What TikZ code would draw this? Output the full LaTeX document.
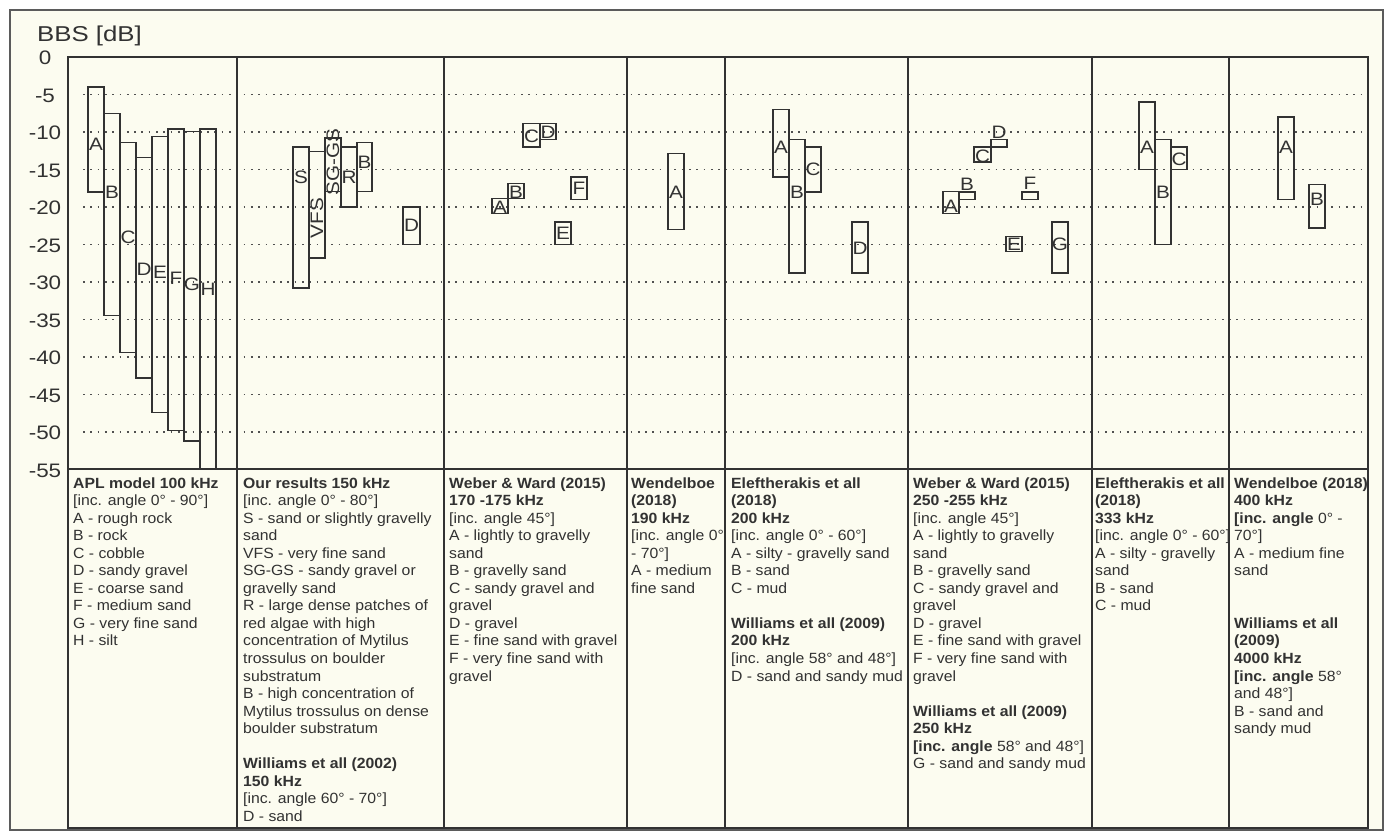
\documentclass[tikz,border=0pt]{standalone}
\usepackage{fontspec}
\usepackage{graphicx}
\setmainfont{Liberation Sans}
\newfontfamily\tabfont{Liberation Sans}[FakeStretch=1.065]
\newfontfamily\tickfont{Liberation Sans}[FakeStretch=1.15]
\newfontfamily\titlefont{Liberation Sans}[FakeStretch=1.2]
\definecolor{cream}{RGB}{252,252,240}
\definecolor{ink}{RGB}{50,50,50}
\definecolor{dotc}{RGB}{80,80,80}
\tikzset{
  frameline/.style={draw=ink!80, line width=1.5pt},
  divline/.style={draw=ink, line width=1.5pt},
  barline/.style={draw=ink, line width=1.4pt},
  gridline/.style={draw=dotc, line width=1.7pt, dash pattern=on 1.7pt off 5.6pt},
  barlab/.style={inner sep=0pt, text=ink, font=\tickfont\fontsize{18}{18}\selectfont},
  ticklab/.style={inner sep=0pt, text=ink, font=\tickfont\fontsize{19.5}{19.5}\selectfont},
  tabtext/.style={inner sep=0pt, anchor=base west, text=ink, font=\tabfont\fontsize{14.8}{17.55}\selectfont}
}
\newcommand\bbar[7]{%
  \draw[barline] (#2,{57-7.5*(#4)}) rectangle (#3,{57-7.5*(#5)});
  \node[barlab] (#1) at ({(#2+#3)/2},{57-7.5*(#7)}) {#6};}
\begin{document}
\begin{tikzpicture}[x=1pt,y=-1pt]
\useasboundingbox (0,0) rectangle (1391,836);
\fill[white] (0,0) rectangle (1391,836);
\draw[frameline, fill=cream] (10,10) rectangle (1383,830);
% title and ticks
\node[inner sep=0pt, anchor=base west, text=ink, font=\titlefont\fontsize{21.5}{21.5}\selectfont] (title) at (37,41) {BBS [dB]};
\foreach \v [count=\i] in {0,-5,-10,-15,-20,-25,-30,-35,-40,-45,-50,-55}
  \node[ticklab] (tick\i) at (45,{57-7.5*\v+1}) {\v};
% grid
\foreach \v in {-5,-10,-15,-20,-25,-30,-35,-40,-45,-50}
  \draw[gridline] (83,{57-7.5*\v}) -- (1368,{57-7.5*\v});
% frame and dividers
\draw[divline] (68,57) rectangle (1368,828);
\draw[divline] (68,469) -- (1368,469);
\foreach \xx in {237,444,627,725,908,1092,1229}
  \draw[divline] (\xx,57) -- (\xx,828);
% column 1
\bbar{a1}{88}{104}{-4}{-18}{A}{-11.6}
\bbar{b1}{104}{120}{-7.5}{-34.5}{B}{-18.1}
\bbar{c1}{120}{136}{-11.4}{-39.4}{C}{-24.1}
\bbar{d1}{136}{152}{-13.4}{-42.8}{D}{-28.3}
\bbar{e1}{152}{168}{-10.6}{-47.4}{E}{-28.7}
\bbar{f1}{168}{184}{-9.6}{-49.8}{F}{-29.5}
\bbar{g1}{184}{200}{-9.9}{-51.2}{G}{-30.3}
\bbar{h1}{200}{216}{-9.6}{-55}{H}{-31}
% column 2
\bbar{s2}{293}{309}{-12}{-30.8}{S}{-16}
\bbar{vfs2}{309}{325}{-12.6}{-26.8}{\rotatebox{90}{VFS}}{-21.5}
\bbar{sg2}{325}{341}{-10.8}{-17.9}{\rotatebox{90}{SG-GS}}{-14}
\bbar{r2}{341}{357}{-12}{-20}{R}{-16}
\bbar{b2}{357}{372}{-11.4}{-17.9}{B}{-14}
\bbar{d2}{403}{420}{-20}{-25}{D}{-22.5}
% column 3
\bbar{a3}{492}{508}{-18.9}{-20.9}{A}{-20}
\bbar{b3}{508}{524}{-16.9}{-18.9}{B}{-18}
\bbar{c3}{523}{540}{-8.9}{-12}{C}{-10.6}
\bbar{d3}{540}{556}{-8.9}{-11}{D}{-10}
\bbar{e3}{555}{571}{-22}{-25}{E}{-23.5}
\bbar{f3}{571}{587}{-16}{-19}{F}{-17.5}
% column 4
\bbar{a4}{668}{684}{-12.9}{-23}{A}{-18}
% column 5
\bbar{a5}{773}{789}{-7}{-16}{A}{-12.1}
\bbar{b5}{789}{805}{-11}{-28.8}{B}{-18}
\bbar{c5}{805}{821}{-12}{-18}{C}{-15}
\bbar{d5}{852}{868}{-22}{-28.8}{D}{-25.5}
% column 6
\bbar{a6}{943}{959}{-17.9}{-20.9}{A}{-19.9}
\bbar{b6}{959}{975}{-18}{-19}{B}{-17}
\bbar{c6}{974}{991}{-12}{-14}{C}{-13.2}
\bbar{d6}{991}{1007}{-11}{-12}{D}{-10}
\bbar{e6}{1006}{1022}{-23.9}{-25.9}{E}{-25}
\bbar{f6}{1022}{1038}{-18}{-19}{F}{-16.8}
\bbar{g6}{1052}{1068}{-22}{-28.8}{G}{-25}
% column 7
\bbar{a7}{1139}{1155}{-6}{-15}{A}{-12}
\bbar{b7}{1155}{1171}{-11}{-25}{B}{-18}
\bbar{c7}{1171}{1187}{-12}{-15}{C}{-13.6}
% column 8
\bbar{a8}{1278}{1294}{-8}{-19}{A}{-12.1}
\bbar{b8}{1309}{1325}{-17}{-22.8}{B}{-19}
% table texts
\node[tabtext] (t1) at (73,488) {\begin{tabular}[t]{@{}l@{}}
\textbf{APL model 100 kHz}\\
{[}inc. angle 0° - 90°]\\
A - rough rock\\
B - rock\\
C - cobble\\
D - sandy gravel\\
E - coarse sand\\
F - medium sand\\
G - very fine sand\\
H - silt
\end{tabular}};
\node[tabtext] (t2) at (243,488) {\begin{tabular}[t]{@{}l@{}}
\textbf{Our results 150 kHz}\\
{[}inc. angle 0° - 80°]\\
S - sand or slightly gravelly\\
sand\\
VFS - very fine sand\\
SG-GS - sandy gravel or\\
gravelly sand\\
R - large dense patches of\\
red algae with high\\
concentration of Mytilus\\
trossulus on boulder\\
substratum\\
B - high concentration of\\
Mytilus trossulus on dense\\
boulder substratum\\
\mbox{}\\
\textbf{Williams et all (2002)}\\
\textbf{150 kHz}\\
{[}inc. angle 60° - 70°]\\
D - sand
\end{tabular}};
\node[tabtext] (t3) at (449,488) {\begin{tabular}[t]{@{}l@{}}
\textbf{Weber \& Ward (2015)}\\
\textbf{170 -175 kHz}\\
{[}inc. angle 45°]\\
A - lightly to gravelly\\
sand\\
B - gravelly sand\\
C - sandy gravel and\\
gravel\\
D - gravel\\
E - fine sand with gravel\\
F - very fine sand with\\
gravel
\end{tabular}};
\node[tabtext] (t4) at (631,488) {\begin{tabular}[t]{@{}l@{}}
\textbf{Wendelboe}\\
\textbf{(2018)}\\
\textbf{190 kHz}\\
{[}inc. angle 0°\\
- 70°]\\
A - medium\\
fine sand
\end{tabular}};
\node[tabtext] (t5) at (731,488) {\begin{tabular}[t]{@{}l@{}}
\textbf{Eleftherakis et all}\\
\textbf{(2018)}\\
\textbf{200 kHz}\\
{[}inc. angle 0° - 60°]\\
A - silty - gravelly sand\\
B - sand\\
C - mud\\
\mbox{}\\
\textbf{Williams et all (2009)}\\
\textbf{200 kHz}\\
{[}inc. angle 58° and 48°]\\
D - sand and sandy mud
\end{tabular}};
\node[tabtext] (t6) at (913,488) {\begin{tabular}[t]{@{}l@{}}
\textbf{Weber \& Ward (2015)}\\
\textbf{250 -255 kHz}\\
{[}inc. angle 45°]\\
A - lightly to gravelly\\
sand\\
B - gravelly sand\\
C - sandy gravel and\\
gravel\\
D - gravel\\
E - fine sand with gravel\\
F - very fine sand with\\
gravel\\
\mbox{}\\
\textbf{Williams et all (2009)}\\
\textbf{250 kHz}\\
\textbf{[inc. angle} 58° and 48°]\\
G - sand and sandy mud
\end{tabular}};
\node[tabtext] (t7) at (1095,488) {\begin{tabular}[t]{@{}l@{}}
\textbf{Eleftherakis et all}\\
\textbf{(2018)}\\
\textbf{333 kHz}\\
{[}inc. angle 0° - 60°]\\
A - silty - gravelly\\
sand\\
B - sand\\
C - mud
\end{tabular}};
\node[tabtext] (t8) at (1234,488) {\begin{tabular}[t]{@{}l@{}}
\textbf{Wendelboe (2018)}\\
\textbf{400 kHz}\\
\textbf{[inc. angle} 0° -\\
70°]\\
A - medium fine\\
sand\\
\mbox{}\\
\mbox{}\\
\textbf{Williams et all}\\
\textbf{(2009)}\\
\textbf{4000 kHz}\\
\textbf{[inc. angle} 58°\\
and 48°]\\
B - sand and\\
sandy mud
\end{tabular}};
\end{tikzpicture}
\end{document}
